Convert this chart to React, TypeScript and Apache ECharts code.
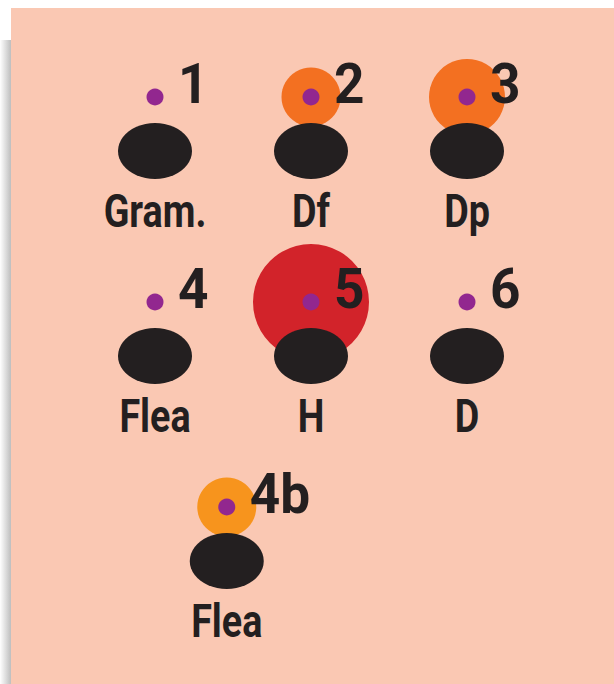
import React, { useEffect, useRef } from "react";
import * as echarts from "echarts";

// Data
const ids = ["1", "2", "3", "4", "5", "6", "4b"];
const names = ["Gram.", "Df", "Dp", "Flea", "H", "D", "Flea"];
const columns = [1, 2, 3, 1, 2, 3, 1.46];
const rows = [1, 1, 1, 2, 2, 2, 3];
const bubbleSizes = [0, 59, 76, 0, 116, 0, 59];
const bubbleColors = ["#f37021", "#f37021", "#f37021", "#f37021", "#d2232a", "#f37021", "#f7941d"];

const FONT = 'Roboto, "DejaVu Sans", sans-serif';
const INK = "#231f20";

export default function App() {
  const ref = useRef<HTMLDivElement>(null);
  useEffect(() => {
    document.body.style.margin = "0";
    const chart = echarts.init(ref.current!, null, { renderer: "svg" });
    const bubbles = ids
      .map((id, i) => ({
        value: [columns[i], rows[i], bubbleSizes[i]],
        itemStyle: { color: bubbleColors[i] },
      }))
      .filter((d) => d.value[2] > 0);
    const points = ids.map((id, i) => [columns[i], rows[i]]);
    chart.setOption({
      animation: false,
      backgroundColor: "#ffffff",
      graphic: [
        {
          type: "rect",
          shape: { x: 0, y: 40, width: 12, height: 644 },
          style: {
            fill: new echarts.graphic.LinearGradient(0, 0, 1, 0, [
              { offset: 0, color: "rgba(0,0,0,0)" },
              { offset: 1, color: "rgba(0,0,0,0.28)" },
            ]),
          },
          z: -10,
        },
        {
          type: "rect",
          shape: { x: 11, y: 8, width: 603, height: 676 },
          style: { fill: "#fac8b3" },
          z: -9,
        },
      ],
      grid: { left: 0, top: 0, right: 0, bottom: 0, outerBoundsMode: "none" },
      xAxis: { type: "value", min: 0.0064, max: 3.9423, show: false },
      yAxis: { type: "value", min: 0.5268, max: 3.8634, inverse: true, show: false },
      series: [
        {
          type: "scatter",
          data: bubbles,
          symbol: "circle",
          symbolSize: (v: number[]) => v[2],
          itemStyle: { opacity: 1 },
          z: 1,
          silent: true,
        },
        {
          type: "scatter",
          data: points,
          symbol: "circle",
          symbolSize: [74, 56],
          symbolOffset: [0, 54],
          itemStyle: { color: INK, opacity: 1 },
          z: 2,
          silent: true,
        },
        {
          type: "scatter",
          data: points,
          symbol: "circle",
          symbolSize: 17,
          itemStyle: { color: "#92278f", opacity: 1 },
          z: 3,
          silent: true,
        },
        {
          type: "custom",
          data: points,
          z: 4,
          silent: true,
          renderItem: (params: any, api: any) => {
            const p = api.coord([api.value(0), api.value(1)]);
            const i = params.dataIndex;
            return {
              type: "group",
              children: [
                {
                  type: "text",
                  x: p[0] + 23,
                  y: p[1] - 13,
                  scaleX: 0.95,
                  style: {
                    text: ids[i],
                    fill: INK,
                    fontFamily: FONT,
                    fontWeight: "bold",
                    fontSize: 56,
                    align: "left",
                    verticalAlign: "middle",
                    textAlign: "left",
                    textVerticalAlign: "middle",
                  },
                },
                {
                  type: "text",
                  x: p[0],
                  y: p[1] + 114,
                  scaleX: 0.82,
                  style: {
                    text: names[i],
                    fill: INK,
                    fontFamily: FONT,
                    fontWeight: "bold",
                    fontSize: 46,
                    align: "center",
                    verticalAlign: "middle",
                    textAlign: "center",
                    textVerticalAlign: "middle",
                  },
                },
              ],
            };
          },
        },
      ],
    });
    return () => chart.dispose();
  }, []);
  return <div ref={ref} style={{ position: "absolute", left: 0, top: 0, width: 614, height: 684 }} />;
}
